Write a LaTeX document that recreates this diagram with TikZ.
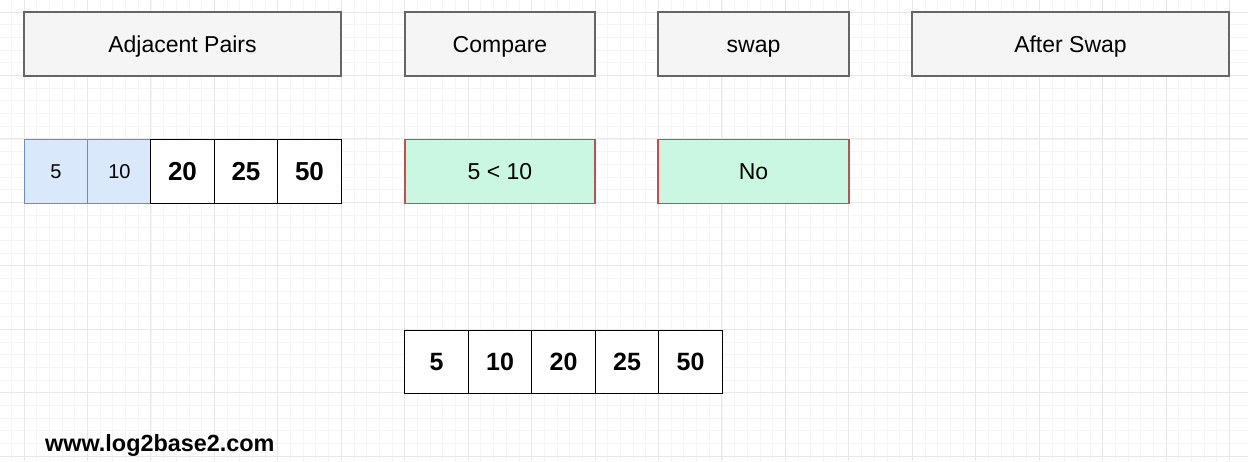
\documentclass[tikz,border=0pt]{standalone}
\usepackage{fontspec}
\setmainfont{Liberation Sans}
\definecolor{hdrfill}{HTML}{F5F5F5}
\definecolor{hdrdraw}{HTML}{666666}
\definecolor{bluefill}{HTML}{DAE8FC}
\definecolor{bluedraw}{HTML}{6C8EBF}
\definecolor{greenfill}{HTML}{C9F7E1}
\definecolor{reddraw}{HTML}{C0504D}
\definecolor{gridminor}{HTML}{F5F5F5}
\definecolor{gridmajor}{HTML}{E8E8E8}
\tikzset{
  hdr/.style={draw=hdrdraw, fill=hdrfill, line width=2pt, font=\fontsize{23}{26}\selectfont, text height=16.5pt, text depth=0pt},
  cellblue/.style={draw=bluedraw, fill=bluefill, line width=1.2pt, font=\fontsize{20}{24}\selectfont, text height=14.3pt, text depth=0pt},
  cellbold/.style={draw=black, fill=white, line width=1.3pt, font=\fontsize{26}{30}\selectfont\bfseries, text height=18.6pt, text depth=0pt},
  cellbot/.style={draw=black, fill=white, line width=1.3pt, font=\fontsize{25}{30}\selectfont\bfseries, text height=17.9pt, text depth=0pt},
  result/.style={draw=reddraw, fill=greenfill, line width=1.4pt, font=\fontsize{23}{26}\selectfont, text height=16.5pt, text depth=0pt},
}
\begin{document}
\begin{tikzpicture}[x=1pt,y=-1pt]
\useasboundingbox (0,0) rectangle (1248,461);
\fill[white] (0,0) rectangle (1248,461);
% grid
\foreach \i in {-1,...,95} {
  \draw[gridminor, line width=0.8pt] ({24+12.69*\i},0) -- ({24+12.69*\i},461);
}
\foreach \j in {-1,...,35} {
  \draw[gridminor, line width=0.8pt] (0,{12+12.69*\j}) -- (1248,{12+12.69*\j});
}
\foreach \i in {0,...,19} {
  \draw[gridmajor, line width=1pt] ({24+63.45*\i},0) -- ({24+63.45*\i},461);
}
\foreach \j in {0,...,7} {
  \draw[gridmajor, line width=1pt] (0,{12+63.45*\j}) -- (1248,{12+63.45*\j});
}
% headers
\node[hdr, minimum width=317pt, minimum height=64pt] (h1) at (182.5,44) {Adjacent Pairs};
\node[hdr, minimum width=190pt, minimum height=64pt] (h2) at (500,44) {Compare};
\node[hdr, minimum width=191pt, minimum height=64pt] (h3) at (753.5,44) {swap};
\node[hdr, minimum width=317pt, minimum height=64pt] (h4) at (1070.5,44) {After Swap};
% top array
\node[cellblue, minimum width=63.5pt, minimum height=63.5pt] (a1) at (56,171.5) {5};
\node[cellblue, minimum width=63.5pt, minimum height=63.5pt] (a2) at (119.5,171.5) {10};
\node[cellbold, minimum width=63.5pt, minimum height=63.5pt] (a3) at (182.5,171.5) {20};
\node[cellbold, minimum width=63.5pt, minimum height=63.5pt] (a4) at (246,171.5) {25};
\node[cellbold, minimum width=63.5pt, minimum height=63.5pt] (a5) at (309.5,171.5) {50};
% results
\node[result, minimum width=190pt, minimum height=63.5pt] (r1) at (500,171.5) {5 < 10};
\node[result, minimum width=191pt, minimum height=63.5pt] (r2) at (753.5,171.5) {No};
% bottom array
\node[cellbot, minimum width=63.5pt, minimum height=63.5pt] (b1) at (436.5,362) {5};
\node[cellbot, minimum width=63.5pt, minimum height=63.5pt] (b2) at (500,362) {10};
\node[cellbot, minimum width=63.5pt, minimum height=63.5pt] (b3) at (563.5,362) {20};
\node[cellbot, minimum width=63.5pt, minimum height=63.5pt] (b4) at (627,362) {25};
\node[cellbot, minimum width=63.5pt, minimum height=63.5pt] (b5) at (690.5,362) {50};
% footer
\node[anchor=base west, inner sep=0pt, font=\fontsize{23.4}{26}\selectfont\bfseries] (web) at (45,451) {www.log2base2.com};
\end{tikzpicture}
\end{document}
